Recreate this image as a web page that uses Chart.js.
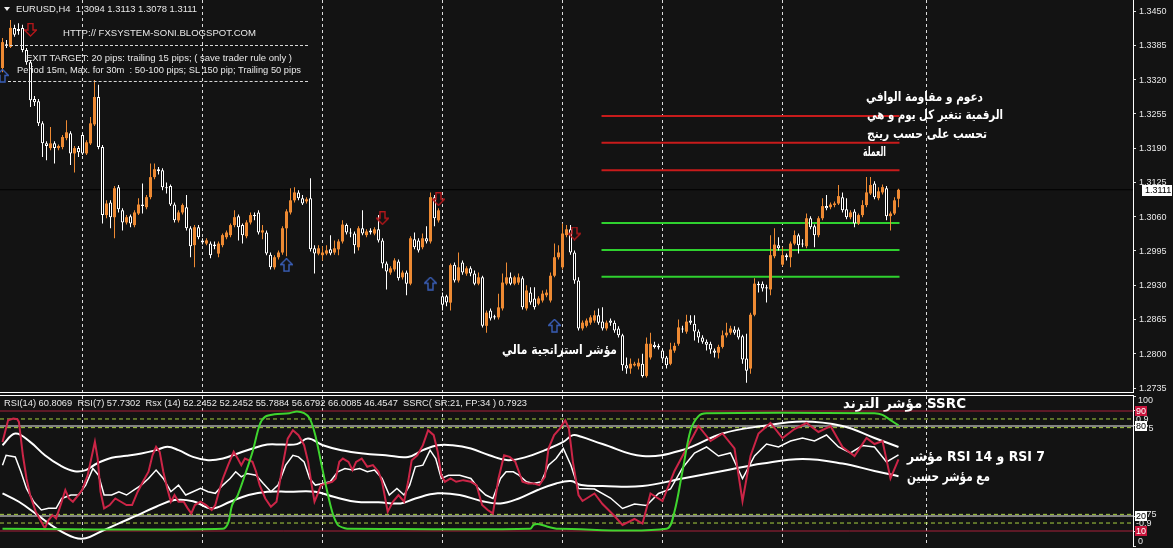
<!DOCTYPE html>
<html><head><meta charset="utf-8">
<script src="https://cdn.jsdelivr.net/npm/chart.js@4.4.1/dist/chart.umd.min.js"></script>
<style>
html,body{margin:0;padding:0;}
body{width:1173px;height:548px;background:#131313;position:relative;overflow:hidden;font-family:"Liberation Sans",Arial,sans-serif;}
canvas{position:absolute;left:0;display:block}
#topChart{top:0}
#botChart{top:396px}
.t{position:absolute;color:#e8e8e8;font-size:9px;line-height:1;white-space:pre;transform-origin:0 50%;}
.ar{position:absolute;color:#fff;font-family:"DejaVu Sans",sans-serif;font-weight:bold;line-height:1;white-space:pre;transform-origin:0 50%;}
.hl{position:absolute;height:0;border-top:1px dashed #d8d8d8}
.sep{position:absolute;left:0;width:1134px;height:1px;background:#fff}
.tri{position:absolute;left:4px;top:7px;width:0;height:0;border-left:3px solid transparent;border-right:3px solid transparent;border-top:4px solid #eee}
</style></head><body>
<canvas id="topChart" width="1173" height="392"></canvas>
<div class="sep" style="top:392px"></div>
<div class="sep" style="top:395px"></div>
<canvas id="botChart" width="1173" height="152"></canvas>

<div class="tri"></div>
<div class="t" data-x="16" data-cy="9" data-w="181">EURUSD,H4  1.3094 1.3113 1.3078 1.3111</div>
<div class="t" data-x="63" data-cy="33" data-w="193">HTTP:// FXSYSTEM-SONI.BLOGSPOT.COM</div>
<div class="hl" style="left:5px;top:45px;width:303px"></div>
<div class="t" data-x="26" data-cy="58" data-w="266">EXIT TARGET: 20 pips: trailing 15 pips; ( save trader rule only )</div>
<div class="t" data-x="17" data-cy="70" data-w="284">Period 15m, Max. for 30m  : 50-100 pips; SL 150 pip; Trailing 50 pips</div>
<div class="hl" style="left:8px;top:81px;width:300px"></div>

<div class="ar" style="font-size:13px" data-x="866" data-cy="96" data-w="117">دعوم و مقاومة الوافي</div>
<div class="ar" style="font-size:13px" data-x="867" data-cy="114" data-w="136">الرقمية تتغير كل يوم و هي</div>
<div class="ar" style="font-size:13px" data-x="867" data-cy="133" data-w="120">تحسب على حسب رينج</div>
<div class="ar" style="font-size:13px" data-x="863" data-cy="151" data-w="23">العملة</div>
<div class="ar" style="font-size:13px" data-x="502" data-cy="349" data-w="115">مؤشر استراتجية مالي</div>

<div class="t" data-x="4" data-cy="403" data-w="523">RSI(14) 60.8069  RSI(7) 57.7302  Rsx (14) 52.2452 52.2452 55.7884 56.6792 66.0085 46.4547  SSRC( SR:21, FP:34 ) 0.7923</div>
<div class="ar" style="font-size:14px" data-x="843" data-cy="403" data-w="123">مؤشر الترند SSRC</div>
<div class="ar" style="font-size:14px" data-x="907" data-cy="456" data-w="138">مؤشر RSI 14 و RSI 7</div>
<div class="ar" style="font-size:14px" data-x="907" data-cy="476" data-w="83">مع مؤشر حسين</div>

<script>
// ---------------- DATA ----------------
const barOpen = [1.3342,1.3387,1.3382,1.3418,1.3416,1.3418,1.3376,1.3353,1.3283,1.3279,
1.3237,1.3199,1.3190,1.3199,1.3190,1.3192,1.3209,1.3218,1.3180,1.3190,
1.3215,1.3180,1.3199,1.3235,1.3287,1.3192,1.3063,1.3087,1.3059,1.3116,
1.3072,1.3049,1.3061,1.3044,1.3066,1.3083,1.3078,1.3097,1.3135,1.3150,
1.3148,1.3116,1.3118,1.3083,1.3053,1.3068,1.3078,1.3038,1.3006,1.3040,
1.3015,1.3009,1.3009,1.3007,1.2990,1.3006,1.3021,1.3025,1.3044,1.3061,
1.3044,1.3023,1.3049,1.3063,1.3068,1.3030,1.3030,1.2988,1.2964,1.2983,
1.2992,1.3038,1.3068,1.3091,1.3106,1.3095,1.3089,1.3095,1.3000,1.2990,
1.2987,1.2990,1.2998,1.2992,1.2998,1.3013,1.3044,1.3030,1.3028,1.3002,
1.3038,1.3025,1.3034,1.3028,1.3036,1.3015,1.2971,1.2954,1.2960,1.2975,
1.2945,1.2954,1.2933,1.3017,1.3015,1.3002,1.3019,1.3013,1.3097,1.3053,
1.2909,1.2909,1.2897,1.2969,1.2939,1.2973,1.2952,1.2962,1.2952,1.2933,
1.2945,1.2853,1.2882,1.2871,1.2869,1.2886,1.2933,1.2945,1.2933,1.2935,
1.2943,1.2886,1.2916,1.2905,1.2895,1.2901,1.2911,1.2901,1.2948,1.2983,
1.2964,1.3025,1.3036,1.2992,1.2939,1.2848,1.2853,1.2859,1.2863,1.2873,
1.2861,1.2848,1.2863,1.2859,1.2848,1.2835,1.2778,1.2772,1.2778,1.2776,
1.2781,1.2758,1.2793,1.2817,1.2815,1.2806,1.2793,1.2781,1.2806,1.2819,
1.2848,1.2842,1.2863,1.2857,1.2842,1.2831,1.2823,1.2819,1.2806,1.2802,
1.2813,1.2835,1.2840,1.2846,1.2846,1.2833,1.2791,1.2772,1.2874,1.2933,
1.2933,1.2926,1.2922,1.2985,1.3006,1.2969,1.2987,1.2983,1.3009,1.3025,
1.3009,1.3004,1.3057,1.3042,1.3025,1.3057,1.3080,1.3078,1.3082,1.3085,
1.3097,1.3074,1.3059,1.3070,1.3047,1.3063,1.3082,1.3104,1.3123,1.3095,
1.3106,1.3114,1.3061,1.3066,1.3094];
const barHigh = [1.3399,1.3395,1.3433,1.3424,1.3427,1.3424,1.3380,1.3357,1.3289,1.3283,
1.3241,1.3203,1.3230,1.3203,1.3197,1.3215,1.3243,1.3222,1.3194,1.3194,
1.3218,1.3205,1.3249,1.3319,1.3310,1.3196,1.3091,1.3091,1.3118,1.3120,
1.3076,1.3063,1.3064,1.3072,1.3095,1.3123,1.3101,1.3161,1.3161,1.3154,
1.3152,1.3125,1.3121,1.3087,1.3072,1.3085,1.3101,1.3042,1.3044,1.3044,
1.3019,1.3019,1.3013,1.3013,1.3013,1.3028,1.3034,1.3047,1.3072,1.3064,
1.3047,1.3053,1.3068,1.3068,1.3072,1.3044,1.3034,1.2992,1.2987,1.2996,
1.3042,1.3074,1.3114,1.3116,1.3110,1.3101,1.3097,1.3133,1.3006,1.3006,
1.3004,1.3006,1.3025,1.3015,1.3017,1.3053,1.3047,1.3038,1.3032,1.3042,
1.3072,1.3036,1.3038,1.3040,1.3063,1.3019,1.2975,1.2966,1.2981,1.2979,
1.2958,1.2958,1.3023,1.3030,1.3019,1.3028,1.3042,1.3106,1.3101,1.3076,
1.2916,1.2912,1.2971,1.2973,1.2992,1.2977,1.2966,1.2966,1.2958,1.2954,
1.2948,1.2882,1.2886,1.2874,1.2914,1.2952,1.2973,1.2954,1.2948,1.2952,
1.2947,1.2930,1.2926,1.2926,1.2909,1.2920,1.2922,1.2954,1.3009,1.3006,
1.3047,1.3044,1.3044,1.2996,1.2945,1.2863,1.2867,1.2873,1.2882,1.2886,
1.2888,1.2863,1.2867,1.2863,1.2852,1.2838,1.2793,1.2791,1.2785,1.2791,
1.2800,1.2831,1.2840,1.2823,1.2819,1.2810,1.2796,1.2821,1.2821,1.2865,
1.2853,1.2874,1.2873,1.2873,1.2846,1.2835,1.2827,1.2823,1.2810,1.2817,
1.2844,1.2859,1.2853,1.2852,1.2850,1.2836,1.2838,1.2878,1.2943,1.2937,
1.2937,1.2931,1.3025,1.3038,1.3021,1.3002,1.2990,1.3013,1.3034,1.3028,
1.3017,1.3066,1.3061,1.3045,1.3061,1.3095,1.3101,1.3087,1.3089,1.3120,
1.3106,1.3095,1.3072,1.3074,1.3066,1.3091,1.3135,1.3135,1.3127,1.3116,
1.3121,1.3118,1.3070,1.3097,1.3113];
const barLow = [1.3334,1.3380,1.3380,1.3401,1.3405,1.3372,1.3348,1.3268,1.3270,1.3232,
1.3173,1.3167,1.3186,1.3161,1.3186,1.3188,1.3205,1.3158,1.3144,1.3173,
1.3177,1.3177,1.3196,1.3232,1.3188,1.3047,1.3057,1.3038,1.3019,1.3068,
1.3034,1.3045,1.3040,1.3040,1.3063,1.3066,1.3074,1.3093,1.3131,1.3140,
1.3110,1.3104,1.3080,1.3049,1.3049,1.3064,1.3034,1.2983,1.2964,1.3017,
1.3007,1.3006,1.2981,1.2998,1.2983,1.3002,1.3017,1.3021,1.3040,1.3015,
1.3009,1.3019,1.3045,1.3053,1.3026,1.3017,1.2987,1.2960,1.2960,1.2979,
1.2988,1.2985,1.3064,1.3087,1.3091,1.3082,1.3085,1.2994,1.2952,1.2987,
1.2977,1.2987,1.2987,1.2988,1.2987,1.3009,1.3026,1.3021,1.2990,1.2996,
1.3025,1.3021,1.3026,1.3025,1.3011,1.2962,1.2922,1.2950,1.2956,1.2939,
1.2941,1.2911,1.2930,1.2998,1.2992,1.2998,1.3009,1.3009,1.3042,1.3049,
1.2882,1.2890,1.2882,1.2935,1.2935,1.2950,1.2948,1.2947,1.2930,1.2930,
1.2850,1.2840,1.2863,1.2865,1.2865,1.2882,1.2930,1.2930,1.2930,1.2931,
1.2884,1.2882,1.2893,1.2884,1.2892,1.2897,1.2907,1.2897,1.2945,1.2979,
1.2960,1.3021,1.2988,1.2933,1.2844,1.2844,1.2850,1.2855,1.2859,1.2855,
1.2844,1.2844,1.2853,1.2840,1.2831,1.2768,1.2762,1.2762,1.2776,1.2770,
1.2755,1.2755,1.2789,1.2810,1.2808,1.2787,1.2772,1.2778,1.2802,1.2815,
1.2840,1.2838,1.2855,1.2825,1.2821,1.2819,1.2806,1.2800,1.2793,1.2791,
1.2810,1.2831,1.2836,1.2836,1.2827,1.2781,1.2745,1.2762,1.2871,1.2916,
1.2918,1.2897,1.2911,1.2981,1.2996,1.2966,1.2977,1.2964,1.3006,1.2990,
1.3002,1.3000,1.3036,1.3002,1.3021,1.3053,1.3072,1.3074,1.3078,1.3082,
1.3068,1.3055,1.3055,1.3040,1.3044,1.3059,1.3078,1.3101,1.3093,1.3091,
1.3102,1.3053,1.3034,1.3063,1.3078];
const barClose = [1.3391,1.3384,1.3418,1.3405,1.3412,1.3376,1.3353,1.3281,1.3277,1.3237,
1.3199,1.3194,1.3199,1.3190,1.3194,1.3211,1.3220,1.3180,1.3190,1.3182,
1.3180,1.3201,1.3237,1.3287,1.3192,1.3063,1.3085,1.3059,1.3114,1.3074,
1.3049,1.3059,1.3047,1.3068,1.3083,1.3080,1.3097,1.3135,1.3150,1.3146,
1.3116,1.3114,1.3083,1.3053,1.3068,1.3082,1.3038,1.3004,1.3040,1.3021,
1.3011,1.3015,1.2987,1.3004,1.3009,1.3025,1.3030,1.3044,1.3059,1.3040,
1.3025,1.3049,1.3063,1.3061,1.3030,1.3034,1.2990,1.2964,1.2983,1.2992,
1.3038,1.3070,1.3091,1.3106,1.3095,1.3085,1.3093,1.2998,1.2990,1.3000,
1.2992,1.2996,1.2990,1.3000,1.3013,1.3045,1.3030,1.3028,1.3006,1.3038,
1.3028,1.3032,1.3030,1.3036,1.3015,1.2971,1.2956,1.2962,1.2977,1.2943,
1.2954,1.2933,1.3019,1.3002,1.2996,1.3019,1.3013,1.3097,1.3057,1.3072,
1.2893,1.2897,1.2968,1.2939,1.2964,1.2954,1.2962,1.2952,1.2933,1.2945,
1.2853,1.2878,1.2867,1.2869,1.2888,1.2935,1.2945,1.2933,1.2945,1.2945,
1.2888,1.2920,1.2897,1.2888,1.2905,1.2914,1.2916,1.2948,1.2983,1.2992,
1.3028,1.3036,1.2992,1.2939,1.2848,1.2859,1.2863,1.2869,1.2873,1.2859,
1.2848,1.2859,1.2859,1.2844,1.2835,1.2778,1.2772,1.2781,1.2781,1.2783,
1.2758,1.2819,1.2819,1.2813,1.2812,1.2791,1.2778,1.2808,1.2815,1.2850,
1.2846,1.2861,1.2859,1.2842,1.2831,1.2823,1.2817,1.2808,1.2802,1.2813,
1.2835,1.2840,1.2848,1.2840,1.2831,1.2789,1.2768,1.2874,1.2933,1.2930,
1.2924,1.2924,1.2987,1.3007,1.3000,1.2987,1.2983,1.3009,1.3025,1.3006,
1.3007,1.3057,1.3040,1.3025,1.3057,1.3080,1.3076,1.3083,1.3085,1.3099,
1.3072,1.3059,1.3068,1.3047,1.3063,1.3082,1.3106,1.3120,1.3097,1.3108,
1.3116,1.3061,1.3066,1.3091,1.3111];

const priceTicks = [1.3450,1.3385,1.3320,1.3255,1.3190,1.3125,1.3060,1.2995,1.2930,1.2865,1.2800,1.2735];
const currentPrice = 1.3111;
const resistanceLevels = [1.3251,1.3200,1.3148];
const supportLevels = [1.3048,1.2997,1.2946];
const levelBars = [149.75,224.25];
const gridBars = [20,50,80,110,140,165,195,231];
const sellArrowBars = [7,95,109,143];
const sellArrowPrices = [1.3414,1.3057,1.3093,1.3028];
const buyArrowBars = [0,71,107,138];
const buyArrowPrices = [1.3327,1.2968,1.2933,1.2853];

// lower panel series: [bar, value]
const rsi7Points = [[0,69.4],[1.4,83.8],[2.7,85],[3.7,84.5],[4.1,82.7],[5.1,60.5],[6,45],[6.9,34],[8.3,22.9],[9.7,16.2],[10.6,11.8],[11.5,17.3],[12.5,20.6],[13.4,18.4],[14.8,29.5],[15.7,37.3],[16.6,31.7],[17.6,29.5],[19,34],[19.9,37.3],[21.3,47.2],[22.2,58.3],[23.1,69.4],[23.8,58.3],[24.5,36.2],[25.4,25.1],[26.8,27.3],[28.2,31.7],[29.6,29.5],[31,27.3],[32.4,27.3],[33.8,36.2],[35.1,42.8],[36.5,49.5],[37.5,60.5],[38.4,66.1],[39.3,62.8],[40.2,49.5],[41.2,38.4],[42.1,29.5],[43,34],[44,29.5],[45.3,29.5],[46.3,25.1],[47.2,21.7],[48.1,27.3],[49.5,29.5],[50.9,27.3],[52.3,24],[53.2,27.3],[54.1,36.2],[55.1,45],[56.4,53.9],[57.8,62.8],[58.8,58.3],[59.7,53.9],[60.6,58.3],[62.5,56.1],[63.4,49.5],[64.3,40.6],[65.7,31.7],[67.1,26.2],[68.5,29.5],[69.9,51.7],[71.3,71.6],[72.6,77.2],[74,73.9],[75.4,67.2],[76.4,56.1],[77.3,40.6],[78,29.5],[78.7,34],[79.6,40.6],[81,41.7],[82.4,42.8],[83.3,45],[84.2,56.1],[85.1,58.3],[86.5,56.1],[87.5,50.6],[88.4,56.1],[89.8,58.3],[91.2,52.8],[92.6,53.9],[94,49.5],[94.9,42.8],[96.3,22.9],[97.6,29.5],[99,34],[100.4,29.5],[101.4,42.8],[102.3,57.2],[103.7,60.5],[105.1,67.2],[106.4,77.2],[107.8,73.9],[108.8,62.8],[109.7,47.2],[110.6,42.8],[112,45],[113.4,42.8],[115.2,43.9],[117.1,42.8],[118.5,40.6],[119.9,27.3],[121.3,24],[122.6,21.7],[124,45],[125.4,60.5],[126.8,59.4],[128.2,56.1],[129.1,49.5],[130,42.8],[131.4,41.7],[132.8,41.7],[134.2,40.6],[135.6,46.1],[136.5,65],[137.9,73.9],[139.3,78.3],[140.7,83.8],[141.6,78.3],[142.6,56.1],[144,34],[145,30],[148,35],[150,28],[153,20],[155,14],[158,18],[160,15],[162,35],[165,30],[168,50],[171,65],[174,80],[177,70],[180,75],[183,65],[185,30],[187,60],[189,75],[192,82],[195,72],[198,78],[201,82],[204,76],[207,80],[210,66],[213,60],[216,72],[218,68],[220,70],[222,45],[224,57.7]];
const rsi14Points = [[0,53.9],[0.9,60.5],[3.2,59.4],[4.6,49.5],[6,38.4],[7.8,29.5],[9.7,24],[11.5,25.1],[13.4,25.1],[14.8,31.7],[17.1,34],[19,34],[20.8,40.6],[22.6,51.7],[24,47.2],[25.4,34],[27.3,34],[29.1,36.2],[31,34],[32.8,37.3],[34.7,40.6],[36.5,45],[38.4,50.6],[40.2,45],[42.1,36.2],[44,40.6],[45.8,34],[47.6,36.2],[49.5,38.4],[51.4,36.2],[53.2,35.1],[55.1,40.6],[56.9,45],[58.3,49.5],[59.7,46.1],[61.1,48.3],[63.4,47.2],[65.2,41.7],[67.1,36.2],[68.9,40.6],[70.8,53.9],[72.6,60.5],[74,59.4],[75.4,56.1],[76.8,45],[78.2,40.6],[80.1,41.7],[81.9,42.8],[83.8,49.5],[85.6,51.7],[87.5,50.6],[89.3,51.7],[91.2,49.5],[93,50.6],[94.9,45],[96.7,34],[98.6,38.4],[100.4,34],[101.8,40.6],[103.2,52.8],[105.1,53.9],[106.9,63.9],[108.3,58.3],[109.7,45],[111.5,47.2],[114.3,47.2],[117.1,45],[119,38.4],[120.8,34],[122.6,31.7],[124.5,45],[125.9,49.5],[127.7,49.5],[129.1,47.2],[131,42.8],[132.8,41.7],[134.7,42.8],[136.5,53.9],[138.4,58.3],[140.2,65],[142.1,53.9],[144,38.4],[148,38],[152,32],[155,25],[158,28],[161,27],[164,35],[167,38],[170,52],[173,62],[176,66],[179,60],[182,62],[185,45],[188,60],[191,68],[194,66],[197,70],[200,72],[203,70],[206,74],[209,66],[212,62],[215,67],[218,66],[221,56],[224,60.8]];
const rsxUpperPoints = [[0,67.2],[3.2,75],[6.9,69.4],[10.6,60.5],[14.3,53.9],[18,49.9],[20.8,50.6],[23.6,55],[27.3,58.8],[31,60.1],[34.7,61.7],[38.4,63.9],[41.2,66.1],[44,63.9],[47.6,59.4],[51.4,57.2],[55.1,58.3],[58.8,61.7],[62.5,65],[66.2,67.6],[69.9,67.6],[73.6,67.9],[76.4,71.6],[80.1,67.2],[84.7,63.9],[90.2,61.7],[95.8,60.5],[101.4,59.4],[105.1,63.9],[108.8,67.2],[112.5,67.2],[117.1,65],[121.7,60.5],[126.4,57.2],[131,59.4],[135.6,63.9],[140.2,69.4],[142.6,73.9],[144.7,72.8],[150,68],[160,60],[170,64],[180,75],[190,80],[200,83],[210,80],[218,72],[224,66]];
const rsxLowerPoints = [[0,35.1],[4.1,29.5],[8.8,20.6],[13.4,11.8],[18,5.6],[20.8,5.1],[24.5,9.5],[29.1,15.1],[33.8,20.6],[38.4,26.2],[43,30.6],[47.6,29.9],[52.3,25.1],[56.9,29.5],[61.5,34],[66.2,36.2],[71.7,36.2],[78.2,36.2],[82.8,32.8],[88.4,29.5],[94,29.1],[99.5,28.4],[103.2,31.7],[108.8,35.1],[114.3,34],[119.9,29.9],[124.5,28.4],[129.1,31.7],[133.8,37.3],[138.4,41.7],[142.1,43.3],[144.7,40.6],[150,40],[160,40],[170,45],[180,50],[190,55],[200,58],[210,55],[218,50],[224,46.5]];
const ssrcPoints = [[0,-1],[55,-1],[56.4,-0.9],[57.4,-0.59],[58.8,-0.42],[60.6,-0.07],[62.5,0.33],[64.3,0.8],[65.7,0.94],[68,0.98],[71.7,1],[73.6,1.03],[75.4,1],[76.8,0.91],[78.2,0.62],[79.6,0.16],[81,-0.3],[82.4,-0.7],[83.8,-0.93],[85.6,-0.99],[87,-1],[131.9,-1],[132.8,-0.93],[134.2,-0.92],[136.1,-0.96],[137.9,-0.99],[139,-1],[166,-1],[168,-0.7],[170,0],[172,0.7],[174,0.95],[176,1],[218,1],[220,0.97],[222,0.88],[224,0.79]];

const rsiAxisTicks = [100,90,80,20,10,0];
const rsiRedLevels = [90,10];
const rsiWhiteLevels = [80,20];
const ssrcLevels = [0.9,0.75,-0.75,-0.9];

// ---------------- STYLE ----------------
const X_MIN = -0.625, X_MAX = 282.625;
const UP = '#ee8a33', DN = '#ffffff';

function arrowImg(color, down){
  const c = document.createElement('canvas'); c.width = 13; c.height = 14;
  const g = c.getContext('2d');
  const pts = [[6.5,0.5],[12.5,6.5],[9,6.5],[9,13],[4,13],[4,6.5],[0.5,6.5]];
  g.beginPath();
  pts.forEach((p,i)=>{ const y = down ? 13.5 - p[1] : p[1]; i ? g.lineTo(p[0], y) : g.moveTo(p[0], y); });
  g.closePath(); g.strokeStyle = color; g.lineWidth = 1.4; g.stroke();
  return c;
}

const idx = barClose.map((_, i) => i);
const isUp = idx.map(i => barClose[i] >= barOpen[i]);

const makeXScale = () => ({
  type:'linear', min:X_MIN, max:X_MAX, offset:false,
  afterBuildTicks: s => { s.ticks = gridBars.map(v => ({value:v})); },
  afterFit: s => { s.height = 0; },
  ticks:{display:false},
  grid:{display:true, offset:false, drawOnChartArea:true, drawTicks:false, color:'#dcdcdc', lineWidth:1},
  border:{display:false, dash:[3,3]}
});

const hLine = (v, color, width, dash, axis, order) => ({
  type:'line', data:[{x:X_MIN,y:v},{x:X_MAX,y:v}], borderColor:color, borderWidth:width,
  borderDash:dash, pointRadius:0, yAxisID:axis, order:order, tension:0
});

// ---------------- TOP CHART ----------------
const topAxisLabels = {
  id:'topAxisLabels',
  afterDraw(chart){
    const ctx = chart.ctx, ys = chart.scales.y, x0 = ys.left;
    ctx.save();
    ctx.font = '9px "Liberation Sans"';
    ctx.textBaseline = 'middle'; ctx.textAlign = 'left';
    ctx.fillStyle = '#e8e8e8';
    priceTicks.forEach(v => ctx.fillText(v.toFixed(4), x0 + 6, ys.getPixelForValue(v) + 0.5));
    const py = Math.round(ys.getPixelForValue(currentPrice));
    ctx.fillStyle = '#ffffff'; ctx.fillRect(x0 + 9, py - 5, 30, 11);
    ctx.fillStyle = '#000000'; ctx.fillText(currentPrice.toFixed(4), x0 + 12, py + 0.5);
    ctx.restore();
  }
};

const topDatasets = [
  hLine(currentPrice, '#000000', 1, [], 'y', 9),
  ...resistanceLevels.map(v => ({type:'line', data:levelBars.map(b => ({x:b, y:v})), borderColor:'#c81b1b', borderWidth:2, pointRadius:0, order:8})),
  ...supportLevels.map(v => ({type:'line', data:levelBars.map(b => ({x:b, y:v})), borderColor:'#2fd12f', borderWidth:2, pointRadius:0, order:8})),
  { type:'bar', data: idx.map(i => ({x:i, y:[barLow[i], barHigh[i]]})),
    backgroundColor: idx.map(i => isUp[i] ? UP : DN), borderWidth:0, barThickness:1,
    grouped:false, inflateAmount:0, order:5 },
  { type:'bar', data: idx.map(i => ({x:i, y:[barOpen[i], barClose[i]]})),
    backgroundColor: idx.map(i => isUp[i] ? UP : '#000000'),
    borderColor: idx.map(i => isUp[i] ? UP : DN),
    borderWidth: idx.map(i => isUp[i] ? 0 : 1), borderSkipped:false,
    barThickness:3, minBarLength:1, grouped:false, inflateAmount:0, order:4 },
  { type:'scatter', data: sellArrowBars.map((b,k) => ({x:b, y:sellArrowPrices[k]})),
    pointStyle: arrowImg('#b3171b', true), pointRadius:6, order:1 },
  { type:'scatter', data: buyArrowBars.map((b,k) => ({x:b, y:buyArrowPrices[k]})),
    pointStyle: arrowImg('#3a5fb8', false), pointRadius:6, order:1 }
];

new Chart(document.getElementById('topChart'), {
  type:'bar',
  data:{datasets: topDatasets},
  options:{
    responsive:false, animation:false, devicePixelRatio:1,
    layout:{padding:0, autoPadding:false},
    plugins:{legend:{display:false}, tooltip:{enabled:false}},
    events:[],
    scales:{
      x: makeXScale(),
      y:{ position:'right', min:1.27275, max:1.34709,
          afterBuildTicks: s => { s.ticks = priceTicks.map(v => ({value:v})); },
          afterFit: s => { s.width = 40; },
          ticks:{display:false},
          grid:{display:true, drawOnChartArea:false, drawTicks:true, tickLength:3, color:'#e0e0e0'},
          border:{display:true, color:'#ffffff', width:1} }
    }
  },
  plugins:[topAxisLabels]
});

// ---------------- BOTTOM CHART ----------------
const botAxisLabels = {
  id:'botAxisLabels',
  afterDraw(chart){
    const ctx = chart.ctx, ys = chart.scales.y, ss = chart.scales.ys, ca = chart.chartArea, x0 = ys.left;
    const cl = p => Math.min(Math.max(p, ca.top + 4), ca.bottom - 5);
    ctx.save();
    ctx.font = '9px "Liberation Sans"';
    ctx.textBaseline = 'middle'; ctx.textAlign = 'left';
    ctx.fillStyle = '#e8e8e8';
    ssrcLevels.forEach(v => ctx.fillText(String(v), x0 + 3, ss.getPixelForValue(v) + 0.5));
    rsiAxisTicks.forEach(v => {
      const py = Math.round(cl(ys.getPixelForValue(v)));
      if (rsiRedLevels.includes(v)) {
        ctx.fillStyle = '#c8143c'; ctx.fillRect(x0 + 2, py - 5, 12, 10); ctx.fillStyle = '#ffffff';
        ctx.fillText(String(v), x0 + 3, py + 0.5);
      } else if (rsiWhiteLevels.includes(v)) {
        ctx.fillStyle = '#ffffff'; ctx.fillRect(x0 + 2, py - 5, 12, 10); ctx.fillStyle = '#000000';
        ctx.fillText(String(v), x0 + 3, py + 0.5);
      } else {
        ctx.fillStyle = '#e8e8e8'; ctx.fillText(String(v), x0 + 5, py + 0.5);
      }
    });
    ctx.restore();
  }
};

const pts = arr => arr.map(p => ({x:p[0], y:p[1]}));
const botDatasets = [
  ...rsiRedLevels.map(v => hLine(v, '#a8213a', 1, [], 'y', 12)),
  ...rsiWhiteLevels.map(v => hLine(v, '#f0f0f0', 1, [], 'y', 11)),
  ...ssrcLevels.map(v => hLine(v, '#a8d040', 1, [4,3], 'ys', 10)),
  {type:'line', data:pts(rsxUpperPoints), borderColor:'#ffffff', borderWidth:2, pointRadius:0, tension:0.4, yAxisID:'y', order:6},
  {type:'line', data:pts(rsxLowerPoints), borderColor:'#ffffff', borderWidth:2, pointRadius:0, tension:0.4, yAxisID:'y', order:6},
  {type:'line', data:pts(rsi14Points), borderColor:'#ffffff', borderWidth:1.5, pointRadius:0, tension:0, yAxisID:'y', order:5},
  {type:'line', data:pts(rsi7Points), borderColor:'#cc2547', borderWidth:2, pointRadius:0, tension:0, yAxisID:'y', order:4},
  {type:'line', data:pts(ssrcPoints), borderColor:'#3fd52f', borderWidth:2, pointRadius:0, tension:0.3, yAxisID:'ys', order:3}
];

new Chart(document.getElementById('botChart'), {
  type:'line',
  data:{datasets: botDatasets},
  options:{
    responsive:false, animation:false, devicePixelRatio:1,
    layout:{padding:{top:0, bottom:2, left:0, right:0}, autoPadding:false},
    plugins:{legend:{display:false}, tooltip:{enabled:false}},
    events:[],
    scales:{
      x: makeXScale(),
      y:{ position:'right', min:0, max:100,
          afterBuildTicks: s => { s.ticks = rsiAxisTicks.map(v => ({value:v})); },
          afterFit: s => { s.width = 40; },
          ticks:{display:false},
          grid:{display:true, drawOnChartArea:false, drawTicks:true, tickLength:3, color:'#e0e0e0'},
          border:{display:true, color:'#ffffff', width:1} },
      ys:{ display:false, min:-1.2976, max:1.2976 }
    }
  },
  plugins:[botAxisLabels]
});

// ---------------- TEXT LAYOUT ----------------
function layoutTexts(){
  document.querySelectorAll('[data-x]').forEach(el => {
    el.style.left = el.dataset.x + 'px'; el.style.top = '0px'; el.style.transform = 'none';
    const r = el.getBoundingClientRect();
    el.style.top = (+el.dataset.cy - r.height / 2) + 'px';
    if (el.dataset.w) el.style.transform = 'scaleX(' + (+el.dataset.w / r.width) + ')';
  });
}
layoutTexts();
if (document.fonts && document.fonts.ready) document.fonts.ready.then(layoutTexts);
</script>
</body></html>
